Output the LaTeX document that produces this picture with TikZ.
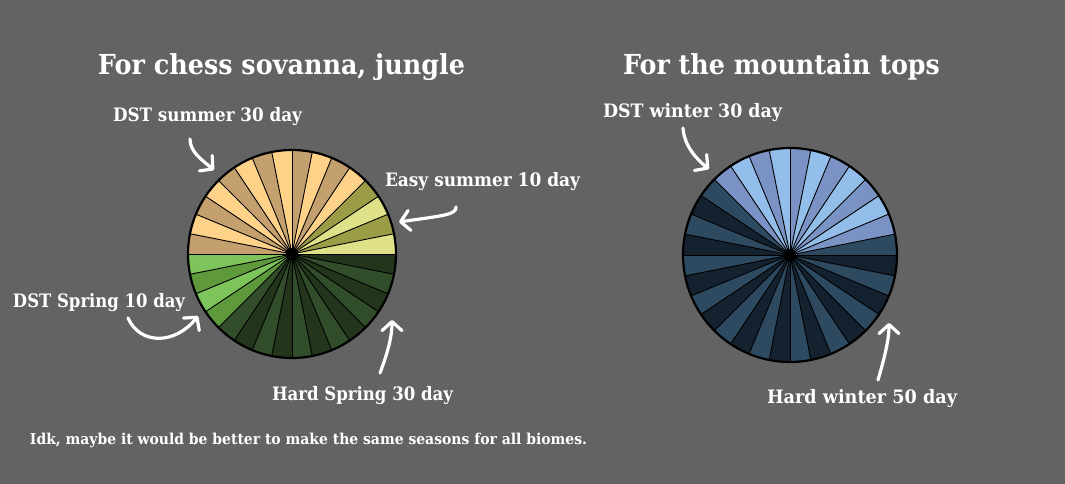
\documentclass[tikz,border=0pt]{standalone}
\usepackage{fontspec}
\setmainfont{DejaVu Serif}
\usepackage{graphicx}
\usetikzlibrary{arrows.meta}
\definecolor{bg}{HTML}{636363}
\definecolor{lY}{HTML}{DEE187}
\definecolor{oL}{HTML}{9B9D46}
\definecolor{pE}{HTML}{FFD28A}
\definecolor{tA}{HTML}{C4A06E}
\definecolor{gB}{HTML}{7DC45A}
\definecolor{gM}{HTML}{5E9A3C}
\definecolor{dM}{HTML}{324D2A}
\definecolor{dD}{HTML}{23361C}
\definecolor{bL}{HTML}{94BEEA}
\definecolor{bM}{HTML}{7A93C4}
\definecolor{nM}{HTML}{2E4A60}
\definecolor{nD}{HTML}{14222F}
\newcommand{\fitw}[2]{\resizebox{#1}{\height}{#2}}
\begin{document}
\begin{tikzpicture}[x=1pt,y=-1pt,
  lbl/.style={text=white,inner sep=0pt,anchor=base,font=\bfseries},
  wedgeline/.style={draw=black,line width=0.9pt},
  rim/.style={draw=black,line width=2.2pt},
  hand/.style={draw=white,line width=3.2pt,line cap=round,-{Straight Barb[length=9pt,width=20pt,round]}}]
\fill[bg] (0,0) rectangle (1065,484);
\useasboundingbox (0,0) rectangle (1065,484);

% left pie
\begin{scope}[shift={(292,254)},yscale=-1]
\foreach \c [count=\i from 0] in {lY,oL,lY,oL,pE,tA,pE,tA,pE,tA,pE,tA,pE,tA,pE,tA,gB,gM,gB,gM,dM,dD,dM,dD,dM,dD,dM,dD,dM,dD,dM,dD}{
  \fill[\c] (0,0) -- (\i*11.25:104) arc[start angle=\i*11.25, delta angle=11.25, radius=104] -- cycle;
}
\foreach \i in {0,...,31} \draw[wedgeline] (0,0) -- (\i*11.25:104);
\draw[rim] (0,0) circle (104);
\fill[black] (0,0) circle (6);
\end{scope}

% right pie
\begin{scope}[shift={(790,255)},yscale=-1]
\foreach \c [count=\i from 0] in {nM,bM,bL,bM,bL,bM,bL,bM,bL,bM,bL,bM,nM,nD,nM,nD,nM,nD,nM,nD,nM,nD,nM,nD,nM,nD,nM,nD,nM,nD,nM,nD}{
  \fill[\c] (0,0) -- (\i*11.25:107) arc[start angle=\i*11.25, delta angle=11.25, radius=107] -- cycle;
}
\foreach \i in {0,...,31} \draw[wedgeline] (0,0) -- (\i*11.25:107);
\draw[rim] (0,0) circle (107);
\fill[black] (0,0) circle (6);
\end{scope}

% texts
\node[lbl] (t1) at (281.5,75) {\fitw{367pt}{\fontsize{27.5}{30}\selectfont For chess sovanna, jungle}};
\node[lbl] (t2) at (781.5,75) {\fitw{317pt}{\fontsize{27.5}{30}\selectfont For the mountain tops}};
\node[lbl] (l1) at (207.5,122) {\fitw{189pt}{\fontsize{18.5}{20}\selectfont DST summer 30 day}};
\node[lbl] (l2) at (482.5,186.5) {\fitw{195pt}{\fontsize{18.5}{20}\selectfont Easy summer 10 day}};
\node[lbl] (l3) at (99,307) {\fitw{172pt}{\fontsize{18.5}{20}\selectfont DST Spring 10 day}};
\node[lbl] (l4) at (362.5,400) {\fitw{181pt}{\fontsize{18.5}{20}\selectfont Hard Spring 30 day}};
\node[lbl] (l5) at (692.5,118) {\fitw{179pt}{\fontsize{18.5}{20}\selectfont DST winter 30 day}};
\node[lbl] (l6) at (862,403) {\fitw{190pt}{\fontsize{18.5}{20}\selectfont Hard winter 50 day}};
\node[lbl] (fn) at (308.5,444) {\fitw{557pt}{\fontsize{15}{17}\selectfont Idk, maybe it would be better to make the same seasons for all biomes.}};

% arrows
\coordinate (a1s) at (190,139);  \coordinate (a1e) at (214,170);
\coordinate (a2s) at (456,207);  \coordinate (a2e) at (399,222);
\coordinate (a3s) at (128,318);  \coordinate (a3e) at (198,316);
\coordinate (a4s) at (380,373);  \coordinate (a4e) at (392,320);
\coordinate (a5s) at (683,128);  \coordinate (a5e) at (709,169);
\coordinate (a6s) at (878,380);  \coordinate (a6e) at (889,323);
\draw[hand] (a1s) .. controls (190,152) and (202,160) .. (a1e);
\draw[hand] (a2s) .. controls (457,215) and (440,216) .. (a2e);
\draw[hand] (a3s) .. controls (140,345) and (175,345) .. (a3e);
\draw[hand] (a4s) .. controls (388,352) and (392,336) .. (a4e);
\draw[hand] (a5s) .. controls (684,145) and (696,159) .. (a5e);
\draw[hand] (a6s) .. controls (885,356) and (889,339) .. (a6e);
\end{tikzpicture}
\end{document}
